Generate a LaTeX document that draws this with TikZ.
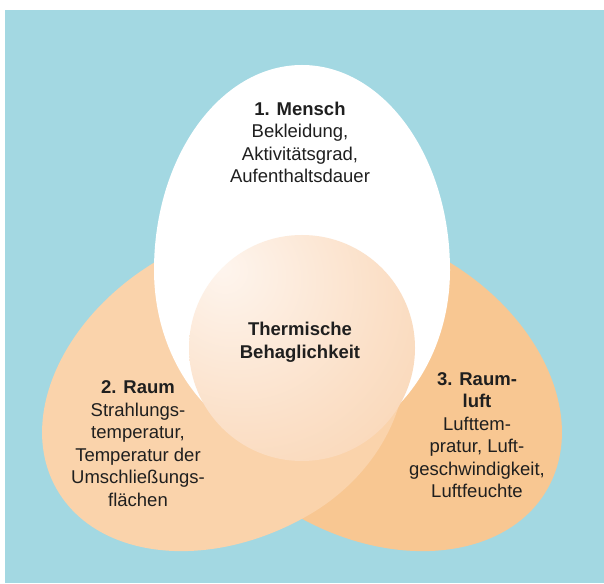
\documentclass[tikz,border=0pt]{standalone}
\usepackage{fontspec}
\setmainfont{Liberation Sans}
\definecolor{bgblue}{HTML}{A3D8E2}
\definecolor{peachL}{HTML}{FAD3AB}
\definecolor{peachR}{HTML}{F8C792}
\definecolor{circlight}{HTML}{FEF5EE}
\definecolor{circmid}{HTML}{FBE0C8}
\definecolor{circdark}{HTML}{F7CDA4}
\pgfdeclareradialshading{glow}{\pgfpoint{-18bp}{18bp}}{color(0bp)=(circlight); color(30bp)=(circmid); color(62bp)=(circdark); color(100bp)=(circdark)}
\begin{document}
\begin{tikzpicture}[x=1pt,y=1pt,
  egg/.style={insert path={(148,78) arc[start angle=0,end angle=180,x radius=148,y radius=205] arc[start angle=180,end angle=360,x radius=148,y radius=178] -- cycle}},
  lbl/.style={align=center, inner sep=0pt, text=black!88, font=\fontsize{18.5}{22.5}\selectfont}]
\useasboundingbox (0,0) rectangle (604,583);
\fill[white] (0,0) rectangle (604,583);
\fill[bgblue] (5,0) rectangle (604,573);
% 3. Raumluft (right)
\begin{scope}[shift={(302,235)},rotate=-120]
  \path[fill=peachR, egg];
\end{scope}
% 2. Raum (left)
\begin{scope}[shift={(302,235)},rotate=120]
  \path[fill=peachL, egg];
\end{scope}
% 1. Mensch (top)
\begin{scope}[shift={(302,235)}]
  \path[fill=white, egg];
\end{scope}
% centre
\node[circle, minimum size=226pt, inner sep=0pt, shading=glow] (core) at (302,235) {};
\node[lbl] (mensch) at (300,440.7) {\textbf{1. Mensch}\\Bekleidung,\\Aktivitätsgrad,\\Aufenthaltsdauer};
\node[lbl] (thermo) at (300,240.8) {\textbf{Thermische}\\\textbf{Behaglichkeit}};
\node[lbl] (raum) at (138,139.2) {\textbf{2. Raum}\\Strahlungs-\\temperatur,\\Temperatur der\\Umschließungs-\\flächen};
\node[lbl] (luft) at (477,148.1) {\textbf{3. Raum-}\\\textbf{luft}\\Lufttem-\\pratur, Luft-\\geschwindigkeit,\\Luftfeuchte};
\end{tikzpicture}
\end{document}
